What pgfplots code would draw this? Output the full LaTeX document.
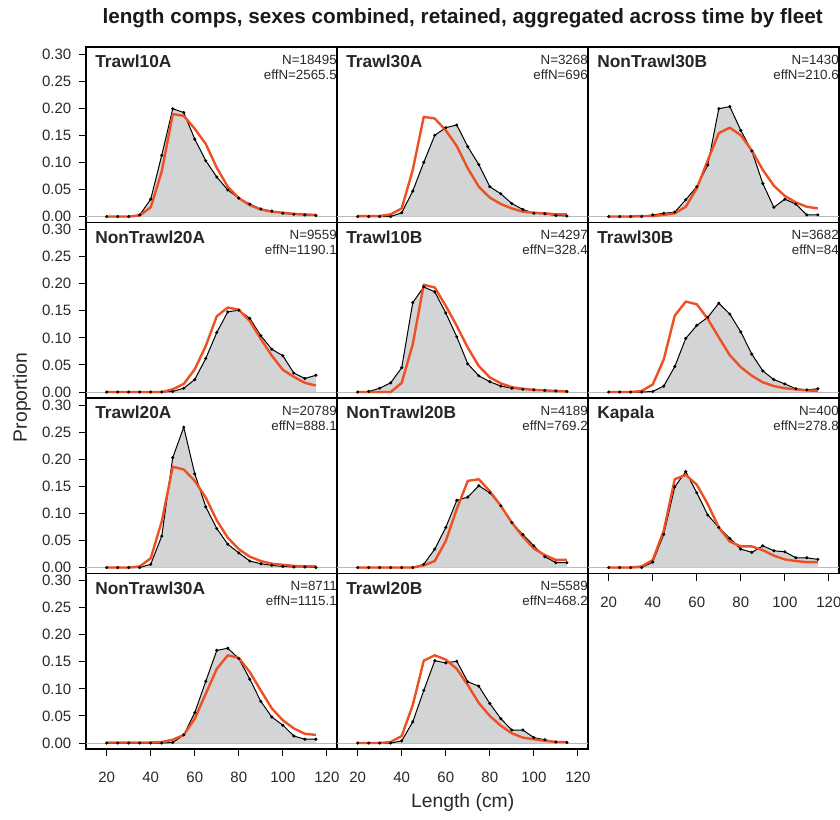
\documentclass[border=0pt]{standalone}
\usepackage{pgfplots}
\usepackage{pgfplotstable}
\usepackage{fontspec}
\setmainfont{Liberation Sans}
\pgfplotsset{compat=1.18}

\definecolor{obsfill}{RGB}{211,212,214}
\definecolor{expcol}{RGB}{238,80,35}
\definecolor{txt}{RGB}{40,40,40}

% length bins, observed and expected proportions
\pgfplotstableread{
len obs exp
20 0 0
25 0 0
30 0 0
35 0.003 0.002
40 0.032 0.017
45 0.113 0.083
50 0.199 0.189
55 0.192 0.186
60 0.143 0.162
65 0.103 0.134
70 0.073 0.090
75 0.049 0.055
80 0.034 0.034
85 0.023 0.021
90 0.014 0.013
95 0.010 0.009
100 0.006 0.007
105 0.004 0.005
110 0.003 0.004
115 0.002 0.003
}\tTrawlTenA

\pgfplotstableread{
len obs exp
20 0 0.001
25 0 0.001
30 0 0.001
35 0 0.004
40 0.007 0.015
45 0.047 0.086
50 0.100 0.184
55 0.150 0.181
60 0.164 0.159
65 0.169 0.130
70 0.129 0.089
75 0.096 0.055
80 0.055 0.035
85 0.042 0.023
90 0.024 0.015
95 0.013 0.009
100 0.006 0.007
105 0.005 0.006
110 0.002 0.004
115 0.001 0.004
}\tTrawlThirtyA

\pgfplotstableread{
len obs exp
20 0 0
25 0 0
30 0 0
35 0 0.001
40 0.003 0.001
45 0.006 0.003
50 0.008 0.006
55 0.031 0.018
60 0.055 0.052
65 0.095 0.104
70 0.199 0.154
75 0.203 0.164
80 0.159 0.150
85 0.121 0.122
90 0.061 0.086
95 0.017 0.057
100 0.032 0.038
105 0.023 0.026
110 0.003 0.018
115 0.003 0.015
}\tNonTrawlThirtyB

\pgfplotstableread{
len obs exp
20 0 0
25 0 0
30 0 0
35 0 0
40 0 0
45 0 0
50 0.001 0.005
55 0.007 0.015
60 0.023 0.042
65 0.062 0.085
70 0.110 0.140
75 0.148 0.156
80 0.151 0.152
85 0.136 0.131
90 0.104 0.098
95 0.079 0.067
100 0.067 0.041
105 0.035 0.028
110 0.025 0.017
115 0.031 0.012
}\tNonTrawlTwentyA

\pgfplotstableread{
len obs exp
20 0 0
25 0.001 0
30 0.007 0
35 0.017 0
40 0.045 0.017
45 0.165 0.088
50 0.194 0.198
55 0.185 0.193
60 0.146 0.159
65 0.102 0.122
70 0.052 0.082
75 0.030 0.048
80 0.019 0.027
85 0.011 0.016
90 0.007 0.009
95 0.005 0.006
100 0.004 0.004
105 0.003 0.003
110 0.002 0.002
115 0.001 0.001
}\tTrawlTenB

\pgfplotstableread{
len obs exp
20 0 0
25 0 0
30 0 0
35 0 0.002
40 0.001 0.014
45 0.011 0.060
50 0.047 0.141
55 0.099 0.167
60 0.123 0.162
65 0.138 0.135
70 0.164 0.101
75 0.144 0.068
80 0.111 0.046
85 0.070 0.030
90 0.039 0.018
95 0.023 0.011
100 0.015 0.007
105 0.006 0.005
110 0.004 0.003
115 0.006 0.002
}\tTrawlThirtyB

\pgfplotstableread{
len obs exp
20 0 0
25 0 0
30 0 0
35 0 0.002
40 0.006 0.017
45 0.058 0.085
50 0.203 0.186
55 0.259 0.181
60 0.173 0.160
65 0.112 0.129
70 0.072 0.087
75 0.043 0.055
80 0.027 0.034
85 0.012 0.020
90 0.007 0.012
95 0.004 0.007
100 0.002 0.005
105 0.001 0.003
110 0.001 0.002
115 0 0.002
}\tTrawlTwentyA

\pgfplotstableread{
len obs exp
20 0 0
25 0 0
30 0 0
35 0 0
40 0 0
45 0 0
50 0.006 0.004
55 0.034 0.012
60 0.074 0.049
65 0.124 0.108
70 0.130 0.160
75 0.151 0.163
80 0.138 0.141
85 0.114 0.114
90 0.083 0.083
95 0.061 0.057
100 0.040 0.035
105 0.020 0.023
110 0.009 0.014
115 0.009 0.014
}\tNonTrawlTwentyB

\pgfplotstableread{
len obs exp
20 0 0
25 0 0
30 0 0
35 0 0.002
40 0.010 0.014
45 0.061 0.068
50 0.149 0.163
55 0.177 0.171
60 0.138 0.153
65 0.097 0.117
70 0.074 0.074
75 0.054 0.048
80 0.034 0.039
85 0.028 0.039
90 0.040 0.032
95 0.031 0.022
100 0.029 0.015
105 0.018 0.012
110 0.018 0.010
115 0.015 0.010
}\tKapala

\pgfplotstableread{
len obs exp
20 0 0.001
25 0 0.001
30 0 0.001
35 0 0.001
40 0 0.001
45 0 0.002
50 0.001 0.006
55 0.015 0.015
60 0.056 0.045
65 0.114 0.091
70 0.171 0.137
75 0.175 0.162
80 0.156 0.157
85 0.118 0.131
90 0.077 0.097
95 0.048 0.064
100 0.033 0.042
105 0.013 0.027
110 0.007 0.017
115 0.007 0.015
}\tNonTrawlThirtyA

\pgfplotstableread{
len obs exp
20 0 0
25 0 0
30 0 0
35 0 0.002
40 0.004 0.013
45 0.039 0.070
50 0.097 0.152
55 0.152 0.162
60 0.148 0.154
65 0.151 0.137
70 0.113 0.107
75 0.105 0.074
80 0.073 0.050
85 0.045 0.032
90 0.024 0.018
95 0.024 0.010
100 0.010 0.007
105 0.006 0.004
110 0.002 0.002
115 0.001 0.002
}\tTrawlTwentyB

\pgfplotsset{
  panel/.style={
    scale only axis, width=188.25pt, height=131.625pt, anchor=south west,
    xmin=10.6, xmax=124.6, ymin=-0.011, ymax=0.313,
    xtick=\empty, ytick=\empty, clip=false,
    axis line style={line width=1pt},
    tick style={black, line width=0.7pt},
    tick align=outside, major tick length=5.5pt,
    ticklabel style={font=\fontsize{11.25}{13}\selectfont, text=txt},
    /pgf/number format/assume math mode=true,
  },
  ylab/.style={
    ytick={0,0.05,0.1,0.15,0.2,0.25,0.3}, ytick pos=left,
    yticklabel style={xshift=-2pt, /pgf/number format/.cd, fixed, fixed zerofill, precision=2},
  },
  xlab/.style={
    xtick={20,40,60,80,100,120}, xtick pos=bottom,
    xticklabel style={yshift=-8.5pt},
  },
}

\newcommand{\panel}[7]{%
  \begin{axis}[panel, at={(#1,#2)}, #3]
    \draw[gray!55, line width=0.6pt] (axis cs:10.6,0) -- (axis cs:124.6,0);
    \addplot[draw=none, fill=obsfill] table[x=len, y=obs]{#4} \closedcycle;
    \addplot[black, line width=0.75pt, mark=*, mark size=0.75pt] table[x=len, y=obs]{#4};
    \addplot[expcol, line width=1.8pt, line join=round] table[x=len, y=exp]{#4};
    \node[anchor=north west, inner sep=0pt, font=\bfseries\fontsize{13}{15}\selectfont, text=black!85]
      at (rel axis cs:0.036,0.955) {#5};
    \node[anchor=north east, inner sep=0pt, align=right, font=\fontsize{10}{11}\selectfont, text=txt]
      at (rel axis cs:1,0.955) {N=#6\\effN=#7};
  \end{axis}}

\begin{document}
\begin{tikzpicture}
\path[use as bounding box] (0,0) rectangle (630pt,615pt);

\panel{64.5pt}{448.125pt}{ylab}{\tTrawlTenA}{Trawl10A}{18495}{2565.5}
\panel{252.75pt}{448.125pt}{}{\tTrawlThirtyA}{Trawl30A}{3268}{696}
\panel{441pt}{448.125pt}{}{\tNonTrawlThirtyB}{NonTrawl30B}{1430}{210.6}

\panel{64.5pt}{316.5pt}{ylab}{\tNonTrawlTwentyA}{NonTrawl20A}{9559}{1190.1}
\panel{252.75pt}{316.5pt}{}{\tTrawlTenB}{Trawl10B}{4297}{328.4}
\panel{441pt}{316.5pt}{}{\tTrawlThirtyB}{Trawl30B}{3682}{84}

\panel{64.5pt}{184.875pt}{ylab}{\tTrawlTwentyA}{Trawl20A}{20789}{888.1}
\panel{252.75pt}{184.875pt}{}{\tNonTrawlTwentyB}{NonTrawl20B}{4189}{769.2}
\panel{441pt}{184.875pt}{xlab}{\tKapala}{Kapala}{400}{278.8}

\panel{64.5pt}{53.25pt}{ylab,xlab}{\tNonTrawlThirtyA}{NonTrawl30A}{8711}{1115.1}
\panel{252.75pt}{53.25pt}{xlab}{\tTrawlTwentyB}{Trawl20B}{5589}{468.2}

\node[font=\bfseries\fontsize{15.5}{18}\selectfont, text=black!90] at (347pt,601pt)
  {length comps, sexes combined, retained, aggregated across time by fleet};
\node[rotate=90, font=\fontsize{14.5}{17}\selectfont, text=txt] at (16.5pt,316.9pt) {Proportion};
\node[font=\fontsize{14.5}{17}\selectfont, text=txt] at (347pt,12.75pt) {Length (cm)};
\end{tikzpicture}
\end{document}
